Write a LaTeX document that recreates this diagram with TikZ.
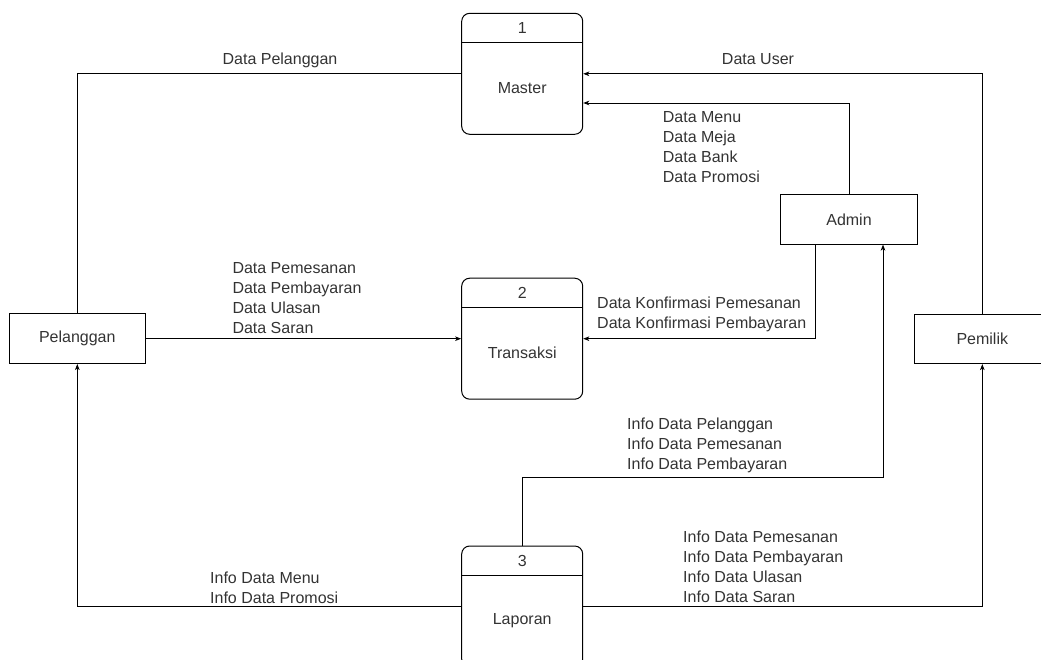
\documentclass[tikz,border=0pt]{standalone}
\usepackage{fontspec}
\setmainfont{Liberation Sans}
\usetikzlibrary{arrows.meta,calc}
\definecolor{ink}{HTML}{000000}
\definecolor{txt}{HTML}{333333}
\begin{document}
\begin{tikzpicture}[x=1pt,y=-1pt,
  font=\fontsize{16}{20}\selectfont,
  every node/.style={text=txt},
  entity/.style={draw=ink,line width=1pt,minimum width=136.5pt,minimum height=49.5pt,inner sep=0pt},
  process/.style={draw=ink,line width=1pt,rounded corners=8pt,minimum width=121pt,minimum height=121pt,inner sep=0pt},
  flow/.style={draw=ink,line width=0.9pt},
  arr/.style={flow,-{Stealth[length=6pt,width=4.5pt,inset=1.5pt]}},
  lbl/.style={align=left,anchor=base west,inner sep=0pt}
]
\useasboundingbox (0,0) rectangle (1041,660);

% processes
\node[process] (p1) at (522.2,73.8) {};
\node[process] (p2) at (522.2,338.7) {};
\node[process] (p3) at (522.2,606.5) {};
\foreach \p/\n/\t in {p1/1/Master,p2/2/Transaksi,p3/3/Laporan}{
  \draw[ink,line width=1pt] ($(\p.north west)+(0,30)$) -- ($(\p.north east)+(0,30)$);
  \node (\p num) at ($(\p.north)+(0,15)$) {\n};
  \node (\p name) at ($(\p.north)+(0,75.5)$) {\t};
}

% external entities
\node[entity] (pel) at (77.3,338.7) {Pelanggan};
\node[entity] (adm) at (849,219.3) {Admin};
\node[entity] (pem) at (982.3,338.8) {Pemilik};

% flows into Master
\draw[flow] (pel.north) |- (p1.west);
\draw[arr] (pem.north) |- (p1.east);
\draw[arr] (adm.north) -- (adm.north |- 0,103) -- (p1.east |- 0,103);

% flows into Transaksi
\draw[arr] (pel.east) -- (p2.west);
\draw[arr] ([xshift=-34pt]adm.south) |- (p2.east);

% flows out of Laporan
\draw[arr] (p3.north) -- (p3.north |- 0,477) -| ([xshift=34pt]adm.south);
\draw[arr] (p3.west) -| (pel.south);
\draw[arr] (p3.east) -| (pem.south);

% flow labels (multi-line ones are placed by the baseline of their last line)
\node[anchor=base] (l1) at (280,65) {Data Pelanggan};
\node[anchor=base] (l2) at (758,65) {Data User};
\node[lbl] (l3) at (662.7,183) {Data Menu\\Data Meja\\Data Bank\\Data Promosi};
\node[lbl] (l4) at (232.3,333.7) {Data Pemesanan\\Data Pembayaran\\Data Ulasan\\Data Saran};
\node[lbl] (l5) at (597,328.7) {Data Konfirmasi Pemesanan\\Data Konfirmasi Pembayaran};
\node[lbl] (l6) at (627,469) {Info Data Pelanggan\\Info Data Pemesanan\\Info Data Pembayaran};
\node[lbl] (l7) at (683,602) {Info Data Pemesanan\\Info Data Pembayaran\\Info Data Ulasan\\Info Data Saran};
\node[lbl] (l8) at (210,603) {Info Data Menu\\Info Data Promosi};
\end{tikzpicture}
\end{document}
